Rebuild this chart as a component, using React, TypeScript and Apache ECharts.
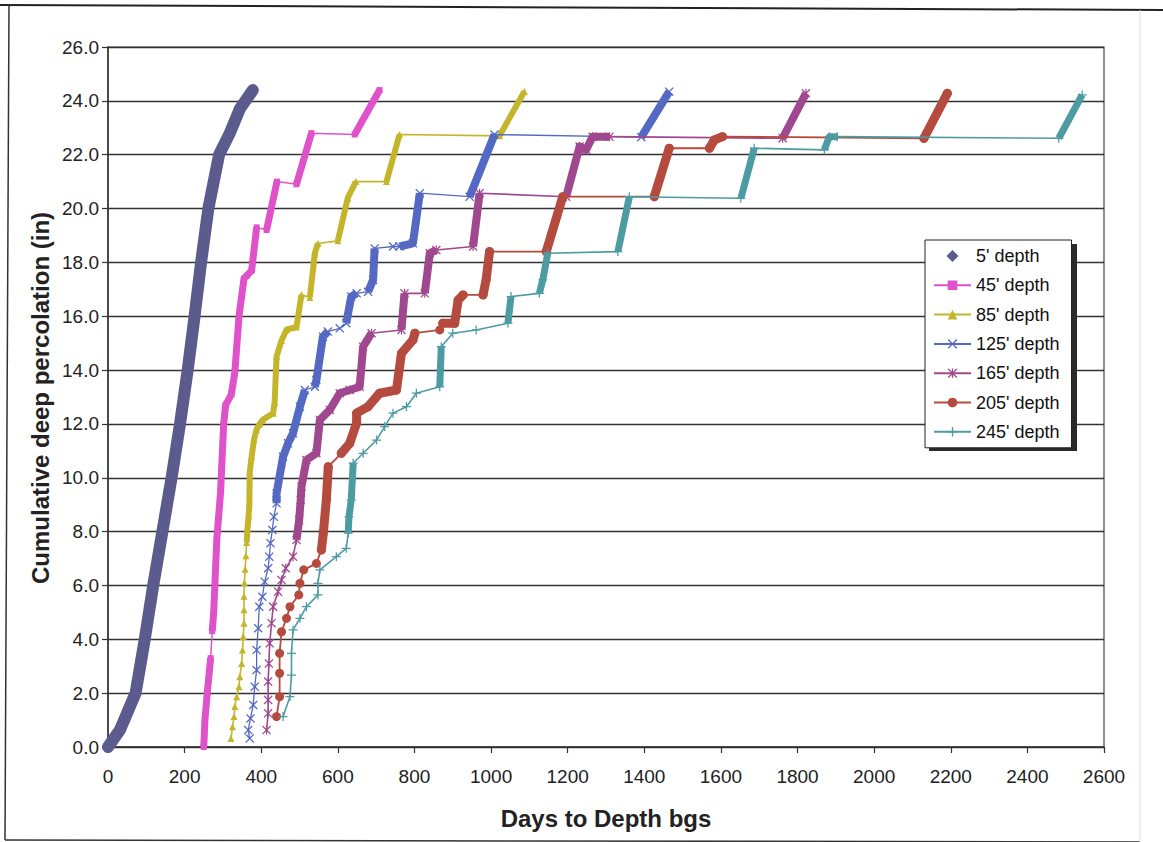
import React, { useEffect, useRef } from "react";
import * as echarts from "echarts";

type Pt = [number, number];

// ---- tick labels / axis ----
const xMax = 2600;
const xStep = 200;
const yMax = 26;
const yStep = 2;

// ---- series names ----
const seriesNames = ["5' depth", "45' depth", "85' depth", "125' depth", "165' depth", "205' depth", "245' depth"];

// ---- series values [days, cumulative inches] ----
const d5: Pt[] = [[0,0],[31,0.63],[72,2],[96,4],[118,6],[142,8],[166,10],[188,12],[208,14],[226,16],[243,18],[262,20],[290,22],[318,22.8],[344,23.7],[378,24.4]];
const d45: Pt[] = [[250,0],[253,1],[259,2],[268,3.3],[272,4.3],[276,5],[284,7.7],[294,9.5],[302,12],[307,12.7],[322,13.1],[331,13.9],[342,16],[355,17.4],[362,17.5],[375,17.7],[388,19.3],[414,19.2],[441,21.0],[492,20.9],[531,22.8],[644,22.75],[709,24.4]];
const d85: Pt[] = [[321,0.32],[325,0.75],[329,1.13],[331,1.5],[336,1.87],[342,2.24],[344,2.61],[349,3.1],[351,3.6],[353,4.1],[355,4.6],[355,5.1],[355,5.6],[356,6.1],[358,6.6],[360,7.1],[362,7.6],[364,8.1],[367,8.55],[369,9.05],[370,10.2],[375,10.8],[381,11.4],[388,11.8],[396,12.0],[404,12.15],[431,12.4],[435,12.8],[440,14.5],[453,15.1],[466,15.5],[492,15.6],[505,16.8],[527,16.7],[540,18.35],[548,18.7],[600,18.8],[626,20.4],[647,21.0],[727,21.0],[761,22.75],[1022,22.7],[1087,24.35]];
const d125: Pt[] = [[370,0.32],[366,0.63],[372,1.06],[379,1.56],[383,2.24],[388,2.86],[388,3.6],[392,4.41],[395,5.21],[403,5.58],[409,6.14],[418,6.64],[421,7.07],[424,7.57],[429,8.06],[433,8.55],[440,9.05],[440,9.42],[457,10.78],[470,11.28],[483,11.65],[501,12.64],[514,13.26],[540,13.38],[544,13.63],[561,15.24],[574,15.43],[605,15.55],[622,15.74],[635,16.73],[649,16.85],[679,16.91],[692,17.35],[696,18.52],[744,18.59],[761,18.59],[796,18.71],[814,20.57],[944,20.44],[1009,22.75],[1392,22.65],[1465,24.34]];
const d165: Pt[] = [[414,0.63],[418,1.25],[418,1.75],[418,2.43],[420,3.1],[422,3.85],[427,4.6],[431,5.21],[444,5.77],[453,6.2],[464,6.64],[483,7.07],[492,7.69],[499,8.43],[503,9.18],[505,9.67],[518,10.66],[544,10.91],[553,12.15],[579,12.52],[605,13.14],[631,13.26],[657,13.38],[666,14.87],[688,15.37],[766,15.49],[774,16.85],[827,16.85],[840,18.34],[857,18.46],[953,18.59],[970,20.57],[1196,20.44],[1231,22.3],[1248,22.18],[1265,22.67],[1309,22.67],[1761,22.61],[1822,24.28]];
const d205: Pt[] = [[440,1.13],[448,1.87],[448,2.74],[448,3.48],[453,4.28],[466,4.78],[475,5.21],[498,5.65],[501,6.08],[511,6.58],[544,6.82],[557,7.32],[562,7.94],[570,9.18],[575,10.41],[609,10.91],[631,11.28],[649,12.03],[649,12.4],[679,12.64],[709,13.14],[753,13.26],[766,14.62],[796,15.12],[801,15.37],[866,15.49],[874,15.74],[905,15.74],[914,16.6],[927,16.79],[979,16.79],[987,17.35],[996,18.4],[1144,18.4],[1187,20.44],[1426,20.44],[1465,22.24],[1570,22.24],[1583,22.55],[1604,22.67],[2130,22.61],[2191,24.28]];
const d245: Pt[] = [[457,1.13],[475,1.87],[479,2.67],[479,3.48],[483,4.35],[501,4.78],[518,5.21],[548,5.65],[548,6.08],[553,6.58],[596,7.07],[622,7.38],[627,7.94],[629,8.55],[635,9.18],[640,10.54],[666,10.91],[701,11.4],[722,11.9],[744,12.4],[779,12.64],[805,13.14],[866,13.38],[870,14.87],[900,15.37],[961,15.49],[1044,15.74],[1052,16.73],[1126,16.85],[1135,17.35],[1148,18.34],[1331,18.4],[1361,20.44],[1652,20.38],[1687,22.24],[1870,22.18],[1883,22.67],[1904,22.67],[2482,22.61],[2543,24.22]];

// ---- index ranges of the runs where markers overlap into a solid band ----
const dense5: Pt[] = [[0, 15]];
const dense45: Pt[] = [[0, 3], [4, 16], [17, 18], [19, 20], [21, 22]];
const dense85: Pt[] = [[16, 32], [33, 35], [36, 38], [39, 40], [41, 42]];
const dense125: Pt[] = [[16, 22], [23, 26], [28, 30], [31, 33], [35, 37], [38, 39], [40, 41]];
const dense165: Pt[] = [[12, 24], [25, 26], [27, 29], [30, 31], [32, 36], [37, 38]];
const dense205: Pt[] = [[11, 14], [15, 24], [26, 29], [30, 32], [33, 34], [35, 36], [37, 39], [40, 41]];
const dense245: Pt[] = [[12, 15], [22, 23], [26, 27], [28, 30], [31, 32], [33, 34], [35, 37], [38, 39]];

const FONT = "'Liberation Sans', Arial, Helvetica, sans-serif";

const SYM_DIAMOND = "path://M5,0L10,5L5,10L0,5Z";
const SYM_X = "path://M0,1L1,0L5,4L9,0L10,1L6,5L10,9L9,10L5,6L1,10L0,9L4,5Z";
const SYM_STAR = "path://M0,1L1,0L5,4L9,0L10,1L6,5L10,9L9,10L5,6L1,10L0,9L4,5Z M4.35,0L5.65,0L5.65,10L4.35,10Z";
const SYM_PLUS = "path://M4.3,0L5.7,0L5.7,4.3L10,4.3L10,5.7L5.7,5.7L5.7,10L4.3,10L4.3,5.7L0,5.7L0,4.3L4.3,4.3Z";

const styles = [
  { pts: d5, dense: dense5, color: "#5B5B8E", symbol: "diamond", size: 10, band: 12, thin: 0, cap: "round" },
  { pts: d45, dense: dense45, color: "#DF52C9", symbol: "rect", size: 6, band: 7, thin: 1.5, cap: "butt" },
  { pts: d85, dense: dense85, color: "#C4B52B", symbol: "triangle", size: 7, band: 6, thin: 1.6, cap: "butt" },
  { pts: d125, dense: dense125, color: "#5469C2", symbol: SYM_X, size: 9, band: 8, thin: 1.3, cap: "butt" },
  { pts: d165, dense: dense165, color: "#A0488F", symbol: SYM_STAR, size: 9, band: 8, thin: 1.6, cap: "butt" },
  { pts: d205, dense: dense205, color: "#B54B3F", symbol: "circle", size: 9, band: 9, thin: 1.8, cap: "round" },
  { pts: d245, dense: dense245, color: "#4D9BA3", symbol: SYM_PLUS, size: 9, band: 7, thin: 1.6, cap: "butt" },
];

function bandData(pts: Pt[], runs: Pt[]) {
  const out: any[] = [];
  runs.forEach(([a, b], i) => {
    if (i > 0) out.push(["-", "-"]);
    for (let k = a; k <= b; k++) out.push(pts[k]);
  });
  return out;
}

export default function App() {
  const ref = useRef<HTMLDivElement>(null);
  useEffect(() => {
    if (!ref.current) return;
    const chart = echarts.init(ref.current, undefined, { renderer: "svg" });
    const series: any[] = [];
    styles.forEach((s, i) => {
      series.push({
        type: "line",
        name: seriesNames[i] + " band",
        data: bandData(s.pts, s.dense),
        symbol: "none",
        connectNulls: false,
        silent: true,
        lineStyle: { color: s.color, width: s.band, cap: s.cap, join: "round" },
        itemStyle: { color: s.color },
        z: 3 + i,
      });
      series.push({
        type: "line",
        name: seriesNames[i],
        data: s.pts,
        symbol: s.symbol,
        symbolSize: s.size,
        showSymbol: true,
        silent: true,
        lineStyle: { color: s.color, width: s.thin || 1, opacity: s.thin ? 1 : 0 },
        itemStyle: { color: s.color, borderWidth: 0 },
        z: 3 + i,
      });
    });
    chart.setOption({
      animation: false,
      backgroundColor: "#ffffff",
      grid: {
        left: 108,
        right: 59,
        top: 47,
        bottom: 95,
        show: true,
        borderColor: "#444",
        borderWidth: 1.2,
        backgroundColor: "transparent",
      },
      xAxis: {
        type: "value",
        min: 0,
        max: xMax,
        interval: xStep,
        axisLine: { lineStyle: { color: "#333", width: 1.5 } },
        axisTick: { show: true, inside: false, length: 6, lineStyle: { color: "#333", width: 1.2 } },
        axisLabel: { fontSize: 19, fontFamily: FONT, color: "#222", margin: 20, formatter: (v: number) => String(v) },
        splitLine: { show: false },
      },
      yAxis: {
        type: "value",
        min: 0,
        max: yMax,
        interval: yStep,
        axisLine: { show: true, lineStyle: { color: "#333", width: 1.5 } },
        axisTick: { show: true, inside: false, length: 6, lineStyle: { color: "#333", width: 1.2 } },
        axisLabel: { fontSize: 19, fontFamily: FONT, color: "#222", margin: 9, formatter: (v: number) => v.toFixed(1) },
        splitLine: { show: true, lineStyle: { color: "#333", width: 1.4 } },
      },
      legend: {
        data: [{ name: seriesNames[0], icon: SYM_DIAMOND }, ...seriesNames.slice(1)],
        orient: "vertical",
        left: 925,
        top: 240,
        padding: [7, 12, 7, 8],
        itemWidth: 37,
        itemHeight: 12,
        itemGap: 11.3,
        symbolKeepAspect: true,
        backgroundColor: "#ffffff",
        borderColor: "#222",
        borderWidth: 1,
        selectedMode: false,
        textStyle: { fontSize: 18, fontFamily: FONT, color: "#111", lineHeight: 18 },
        z: 10,
      },
      graphic: [
        { type: "line", shape: { x1: 0, y1: 5, x2: 1163, y2: 10 }, style: { stroke: "#222", lineWidth: 2 }, z: 1 },
        { type: "line", shape: { x1: 9, y1: 5, x2: 5, y2: 840 }, style: { stroke: "#333", lineWidth: 1.5 }, z: 1 },
        { type: "line", shape: { x1: 5, y1: 840, x2: 1140, y2: 842 }, style: { stroke: "#333", lineWidth: 1.5 }, z: 1 },
        { type: "line", shape: { x1: 1140, y1: 10, x2: 1140, y2: 842 }, style: { stroke: "#ddd", lineWidth: 1 }, z: 1 },
        { type: "rect", shape: { x: 929, y: 244, width: 148, height: 207 }, style: { fill: "#2a2a2a" }, z: 9 },
        {
          type: "text",
          x: 40,
          y: 398,
          rotation: Math.PI / 2,
          style: { text: "Cumulative deep percolation (in)", fontSize: 24, fontWeight: "bold", fontFamily: FONT, fill: "#222", align: "center", verticalAlign: "middle" },
          z: 5,
        },
        {
          type: "text",
          x: 606,
          y: 818,
          style: { text: "Days to Depth bgs", fontSize: 24, fontWeight: "bold", fontFamily: FONT, fill: "#222", align: "center", verticalAlign: "middle" },
          z: 5,
        },
      ],
      series,
    });
    return () => chart.dispose();
  }, []);
  return <div ref={ref} style={{ position: "fixed", left: 0, top: 0, width: 1163, height: 842, background: "#fff" }} />;
}
